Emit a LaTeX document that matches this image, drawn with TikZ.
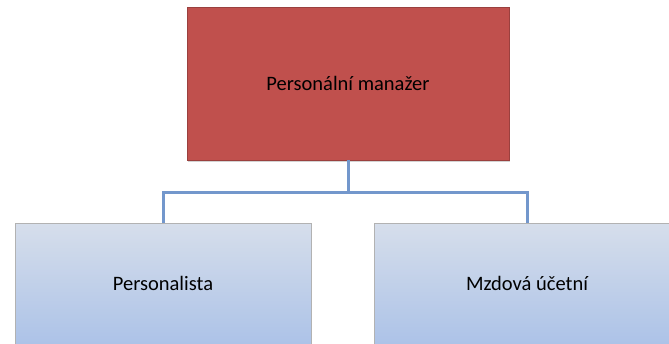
\documentclass[tikz,border=0pt]{standalone}
\usepackage{fontspec}
\setmainfont{Carlito}
\usetikzlibrary{shadows}
\definecolor{redfill}{HTML}{C0504D}
\definecolor{blueTop}{HTML}{D6DEEB}
\definecolor{blueBot}{HTML}{A7BFE7}
\definecolor{conn}{HTML}{7397CC}
\tikzset{
  box/.style={draw=black!30, line width=0.6pt, inner sep=0pt, drop shadow={shadow xshift=1pt, shadow yshift=-1.5pt, opacity=0.35}},
  topbox/.style={box, fill=redfill, draw=redfill!80!black},
  subbox/.style={box, top color=blueTop, bottom color=blueBot},
  lbl/.style={font=\fontsize{20.5}{24}\selectfont, text=black},
  wire/.style={draw=conn, line width=3pt}
}
\begin{document}
\begin{tikzpicture}[x=1pt,y=1pt]
\useasboundingbox (0,0) rectangle (669,-343);
\path[topbox] (187,-7) rectangle (509,-160);
\node[lbl] (pm) at (348,-83) {Personální manažer};
\coordinate (pmb) at (348,-160);
\path[subbox] (15,-223) rectangle (311,-360);
\node[lbl] (pe) at (163,-283) {Personalista};
\coordinate (peb) at (163,-223);
\path[subbox] (374,-223) rectangle (700,-360);
\node[lbl] (mu) at (527,-283) {Mzdová účetní};
\coordinate (mub) at (527,-223);
\coordinate (hl) at (163,-192);
\coordinate (hr) at (527,-192);
\draw[wire] (pmb) -- (348,-192);
\draw[wire] (peb) -- (hl) -- (hr) -- (mub);
\end{tikzpicture}
\end{document}
